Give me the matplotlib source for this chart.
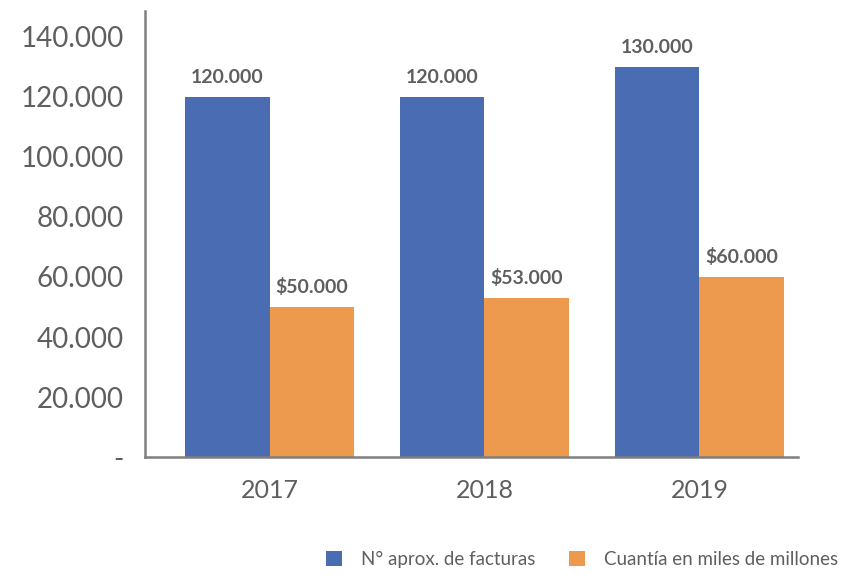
import matplotlib.pyplot as plt
import numpy as np

# datos
anios = ["2017", "2018", "2019"]
facturas = [120000, 120000, 130000]
cuantia = [50000, 53000, 60000]
etiquetas_facturas = ["120.000", "120.000", "130.000"]
etiquetas_cuantia = ["$50.000", "$53.000", "$60.000"]
y_ticks = [0, 20000, 40000, 60000, 80000, 100000, 120000, 140000]
y_labels = ["-", "20.000", "40.000", "60.000", "80.000", "100.000", "120.000", "140.000"]
series = ["N° aprox. de facturas", "Cuantía en miles de millones"]

AZUL = "#4a6cb3"
NARANJA = "#ee9a4e"
GRIS = "#5f5f5f"

plt.rcParams["font.family"] = ["Lato", "DejaVu Sans"]

fig = plt.figure(figsize=(8.52, 5.78), dpi=100)
ax = fig.add_axes([0.170, 0.209, 0.767, 0.772])

x = np.arange(len(anios))
w = 0.395
b1 = ax.bar(x - w / 2, facturas, w, color=AZUL, label=series[0])
b2 = ax.bar(x + w / 2, cuantia, w, color=NARANJA, label=series[1])

# etiquetas sobre las barras
for rect, txt in zip(b1, etiquetas_facturas):
    ax.text(rect.get_x() + rect.get_width() / 2, rect.get_height() + 3500, txt,
            ha="center", va="bottom", fontsize=14, fontweight="bold", color=GRIS)
for rect, txt in zip(b2, etiquetas_cuantia):
    ax.text(rect.get_x() + rect.get_width() / 2, rect.get_height() + 3500, txt,
            ha="center", va="bottom", fontsize=14, fontweight="bold", color=GRIS)

ax.set_xlim(-0.58, 2.46)
ax.set_ylim(0, 148500)
ax.set_xticks(x)
ax.set_xticklabels(anios)
ax.set_yticks(y_ticks)
ax.set_yticklabels(y_labels)
ax.tick_params(axis="both", length=0, labelcolor=GRIS)
ax.tick_params(axis="x", pad=16, labelsize=18)
ax.tick_params(axis="y", pad=15, labelsize=20)

for s in ["top", "right"]:
    ax.spines[s].set_visible(False)
for s in ["left", "bottom"]:
    ax.spines[s].set_color("#7f7f7f")
    ax.spines[s].set_linewidth(1.8)

fig.legend(handles=[b1, b2], labels=series, loc="lower right",
           bbox_to_anchor=(1.003, -0.012), ncol=2, frameon=False,
           fontsize=13.5, labelcolor=GRIS, handlelength=0.85, handleheight=0.85,
           columnspacing=1.8, handletextpad=1.0)

fig.savefig("out.png", dpi=100)
